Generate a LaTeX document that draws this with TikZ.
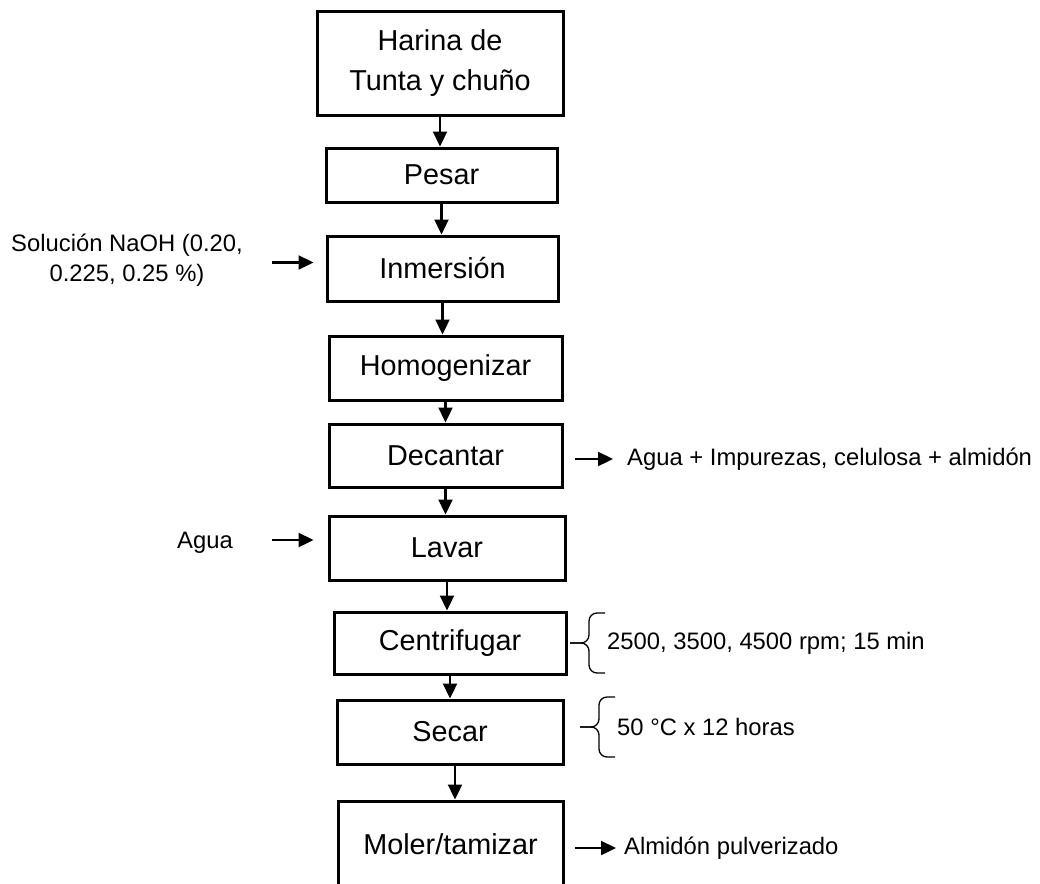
\documentclass[tikz,border=0pt]{standalone}
\usepackage{fontspec}
\setmainfont{Liberation Sans}
\usetikzlibrary{arrows.meta}
\newcommand{\llave}[1]{%
    \draw[line width=1.3pt, rounded corners=8pt]
        ([shift={(-2pt,30pt)}]#1.west) -| ([xshift=-18pt]#1.west) -- ([xshift=-37pt]#1.west);
    \draw[line width=1.3pt, rounded corners=8pt]
        ([shift={(-2pt,-30pt)}]#1.west) -| ([xshift=-18pt]#1.west) -- ([xshift=-37pt]#1.west);
}

\begin{document}
\begin{tikzpicture}[x=1pt, y=-1pt,
    paso/.style={draw, line width=3pt, align=center, font=\fontsize{28.8}{40}\selectfont},
    nota/.style={inner sep=0pt, align=center, font=\fontsize{23.8}{30}\selectfont},
    flecha/.style={line width=2.3pt, -{Triangle[length=15pt, width=14pt]}}]
    \useasboundingbox (0,0) rectangle (1040,883);
    % etapas del proceso
    \node[paso, minimum width=246pt, minimum height=103pt] (harina) at (440,63.5) {Harina de\\Tunta y chuño};
    \node[paso, minimum width=231pt, minimum height=54pt] (pesar) at (441.5,175) {Pesar};
    \node[paso, minimum width=231pt, minimum height=65pt] (inmersion) at (442.5,268.5) {Inmersión};
    \node[paso, minimum width=233pt, minimum height=64pt] (homog) at (445.5,368) {Homogenizar};
    \node[paso, minimum width=233pt, minimum height=63pt] (decantar) at (445.5,455.5) {Decantar};
    \node[paso, minimum width=236pt, minimum height=64pt] (lavar) at (447,548) {Lavar};
    \node[paso, minimum width=232pt, minimum height=62pt] (centrif) at (450,643) {Centrifugar};
    \node[paso, minimum width=226pt, minimum height=64pt] (secar) at (450,732) {Secar};
    \node[paso, minimum width=225pt, minimum height=96pt] (moler) at (450.5,849) {};
    \node[font=\fontsize{28.8}{40}\selectfont] (molertxt) at (450.5,844) {Moler/tamizar};
    \foreach \a/\b in {harina/pesar, pesar/inmersion, inmersion/homog, homog/decantar,
                       decantar/lavar, lavar/centrif, centrif/secar}
        \draw[flecha] (\a.south) -- (\a.south |- \b.north);
    \draw[flecha] ([xshift=5pt]secar.south) -- ([xshift=5pt]secar.south |- moler.north);
    % entradas y salidas
    \node[nota] (naoh) at (127,260) {Solución NaOH (0.20,\\0.225, 0.25 \%)};
    \draw[flecha] ([shift={(-54pt,6pt)}]inmersion.west) -- ([shift={(-12pt,6pt)}]inmersion.west);
    \node[nota] (agua) at (205,543) {Agua};
    \draw[flecha] ([shift={(-56pt,8pt)}]lavar.west) -- ([shift={(-14pt,8pt)}]lavar.west);
    \node[nota, anchor=west] (residuo) at (627,459) {Agua + Impurezas, celulosa + almidón};
    \draw[flecha, shorten <=11pt, shorten >=14pt] (decantar.east |- residuo.west) -- (residuo.west);
    \node[nota, anchor=west] (almidon) at (624,848) {Almidón pulverizado};
    \draw[flecha, shorten <=10pt, shorten >=8pt] (moler.east |- almidon.west) -- (almidon.west);
    % condiciones
    \node[nota, anchor=west] (cinfo) at (607,643) {2500, 3500, 4500 rpm; 15 min};
    \llave{cinfo}
    \node[nota, anchor=west] (sinfo) at (617,727) {50 °C x 12 horas};
    \llave{sinfo}
\end{tikzpicture}
\end{document}
